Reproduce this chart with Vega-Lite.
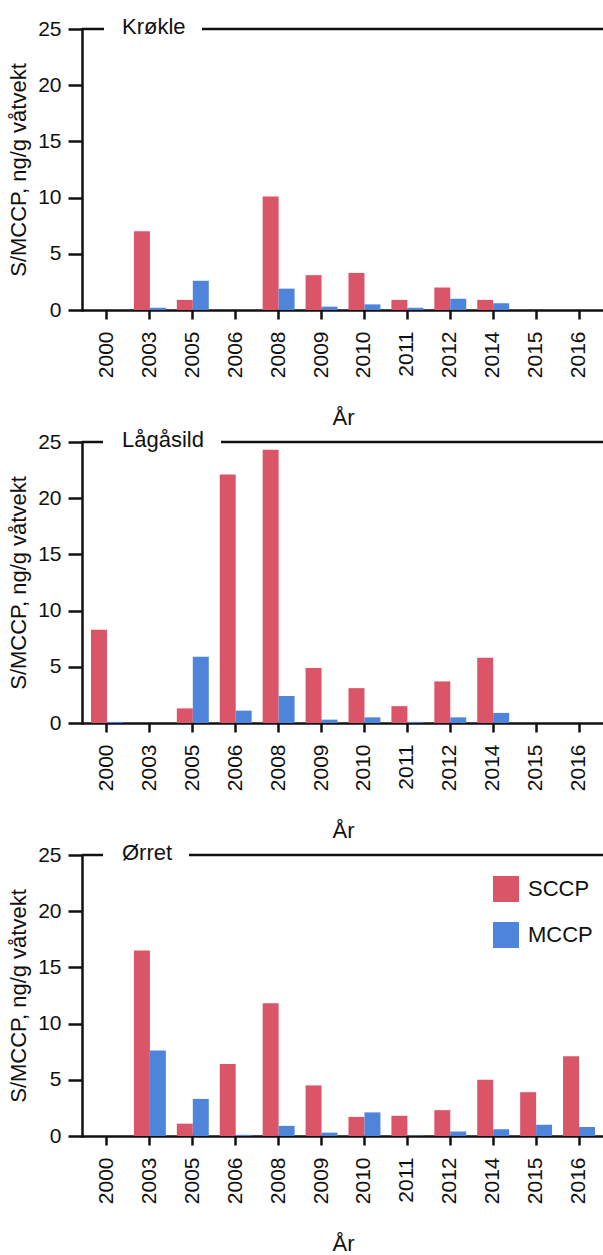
{
  "$schema": "https://vega.github.io/schema/vega-lite/v6.json",
  "padding": {"left": 7, "top": 16, "right": 0, "bottom": 0},
  "spacing": 0,
  "datasets": {
    "ccp": [
      {"art": "Krøkle", "aar": "2000", "stoff": "SCCP", "verdi": 0},
      {"art": "Krøkle", "aar": "2000", "stoff": "MCCP", "verdi": 0},
      {"art": "Krøkle", "aar": "2003", "stoff": "SCCP", "verdi": 7.0},
      {"art": "Krøkle", "aar": "2003", "stoff": "MCCP", "verdi": 0.2},
      {"art": "Krøkle", "aar": "2005", "stoff": "SCCP", "verdi": 0.9},
      {"art": "Krøkle", "aar": "2005", "stoff": "MCCP", "verdi": 2.6},
      {"art": "Krøkle", "aar": "2006", "stoff": "SCCP", "verdi": 0},
      {"art": "Krøkle", "aar": "2006", "stoff": "MCCP", "verdi": 0},
      {"art": "Krøkle", "aar": "2008", "stoff": "SCCP", "verdi": 10.1},
      {"art": "Krøkle", "aar": "2008", "stoff": "MCCP", "verdi": 1.9},
      {"art": "Krøkle", "aar": "2009", "stoff": "SCCP", "verdi": 3.1},
      {"art": "Krøkle", "aar": "2009", "stoff": "MCCP", "verdi": 0.3},
      {"art": "Krøkle", "aar": "2010", "stoff": "SCCP", "verdi": 3.3},
      {"art": "Krøkle", "aar": "2010", "stoff": "MCCP", "verdi": 0.5},
      {"art": "Krøkle", "aar": "2011", "stoff": "SCCP", "verdi": 0.9},
      {"art": "Krøkle", "aar": "2011", "stoff": "MCCP", "verdi": 0.2},
      {"art": "Krøkle", "aar": "2012", "stoff": "SCCP", "verdi": 2.0},
      {"art": "Krøkle", "aar": "2012", "stoff": "MCCP", "verdi": 1.0},
      {"art": "Krøkle", "aar": "2014", "stoff": "SCCP", "verdi": 0.9},
      {"art": "Krøkle", "aar": "2014", "stoff": "MCCP", "verdi": 0.6},
      {"art": "Krøkle", "aar": "2015", "stoff": "SCCP", "verdi": 0},
      {"art": "Krøkle", "aar": "2015", "stoff": "MCCP", "verdi": 0},
      {"art": "Krøkle", "aar": "2016", "stoff": "SCCP", "verdi": 0},
      {"art": "Krøkle", "aar": "2016", "stoff": "MCCP", "verdi": 0},
      {"art": "Lågåsild", "aar": "2000", "stoff": "SCCP", "verdi": 8.3},
      {"art": "Lågåsild", "aar": "2000", "stoff": "MCCP", "verdi": 0.1},
      {"art": "Lågåsild", "aar": "2003", "stoff": "SCCP", "verdi": 0},
      {"art": "Lågåsild", "aar": "2003", "stoff": "MCCP", "verdi": 0},
      {"art": "Lågåsild", "aar": "2005", "stoff": "SCCP", "verdi": 1.3},
      {"art": "Lågåsild", "aar": "2005", "stoff": "MCCP", "verdi": 5.9},
      {"art": "Lågåsild", "aar": "2006", "stoff": "SCCP", "verdi": 22.1},
      {"art": "Lågåsild", "aar": "2006", "stoff": "MCCP", "verdi": 1.1},
      {"art": "Lågåsild", "aar": "2008", "stoff": "SCCP", "verdi": 24.3},
      {"art": "Lågåsild", "aar": "2008", "stoff": "MCCP", "verdi": 2.4},
      {"art": "Lågåsild", "aar": "2009", "stoff": "SCCP", "verdi": 4.9},
      {"art": "Lågåsild", "aar": "2009", "stoff": "MCCP", "verdi": 0.3},
      {"art": "Lågåsild", "aar": "2010", "stoff": "SCCP", "verdi": 3.1},
      {"art": "Lågåsild", "aar": "2010", "stoff": "MCCP", "verdi": 0.5},
      {"art": "Lågåsild", "aar": "2011", "stoff": "SCCP", "verdi": 1.5},
      {"art": "Lågåsild", "aar": "2011", "stoff": "MCCP", "verdi": 0.1},
      {"art": "Lågåsild", "aar": "2012", "stoff": "SCCP", "verdi": 3.7},
      {"art": "Lågåsild", "aar": "2012", "stoff": "MCCP", "verdi": 0.5},
      {"art": "Lågåsild", "aar": "2014", "stoff": "SCCP", "verdi": 5.8},
      {"art": "Lågåsild", "aar": "2014", "stoff": "MCCP", "verdi": 0.9},
      {"art": "Lågåsild", "aar": "2015", "stoff": "SCCP", "verdi": 0},
      {"art": "Lågåsild", "aar": "2015", "stoff": "MCCP", "verdi": 0},
      {"art": "Lågåsild", "aar": "2016", "stoff": "SCCP", "verdi": 0},
      {"art": "Lågåsild", "aar": "2016", "stoff": "MCCP", "verdi": 0},
      {"art": "Ørret", "aar": "2000", "stoff": "SCCP", "verdi": 0},
      {"art": "Ørret", "aar": "2000", "stoff": "MCCP", "verdi": 0},
      {"art": "Ørret", "aar": "2003", "stoff": "SCCP", "verdi": 16.5},
      {"art": "Ørret", "aar": "2003", "stoff": "MCCP", "verdi": 7.6},
      {"art": "Ørret", "aar": "2005", "stoff": "SCCP", "verdi": 1.1},
      {"art": "Ørret", "aar": "2005", "stoff": "MCCP", "verdi": 3.3},
      {"art": "Ørret", "aar": "2006", "stoff": "SCCP", "verdi": 6.4},
      {"art": "Ørret", "aar": "2006", "stoff": "MCCP", "verdi": 0.1},
      {"art": "Ørret", "aar": "2008", "stoff": "SCCP", "verdi": 11.8},
      {"art": "Ørret", "aar": "2008", "stoff": "MCCP", "verdi": 0.9},
      {"art": "Ørret", "aar": "2009", "stoff": "SCCP", "verdi": 4.5},
      {"art": "Ørret", "aar": "2009", "stoff": "MCCP", "verdi": 0.3},
      {"art": "Ørret", "aar": "2010", "stoff": "SCCP", "verdi": 1.7},
      {"art": "Ørret", "aar": "2010", "stoff": "MCCP", "verdi": 2.1},
      {"art": "Ørret", "aar": "2011", "stoff": "SCCP", "verdi": 1.8},
      {"art": "Ørret", "aar": "2011", "stoff": "MCCP", "verdi": 0.05},
      {"art": "Ørret", "aar": "2012", "stoff": "SCCP", "verdi": 2.3},
      {"art": "Ørret", "aar": "2012", "stoff": "MCCP", "verdi": 0.4},
      {"art": "Ørret", "aar": "2014", "stoff": "SCCP", "verdi": 5.0},
      {"art": "Ørret", "aar": "2014", "stoff": "MCCP", "verdi": 0.6},
      {"art": "Ørret", "aar": "2015", "stoff": "SCCP", "verdi": 3.9},
      {"art": "Ørret", "aar": "2015", "stoff": "MCCP", "verdi": 1.0},
      {"art": "Ørret", "aar": "2016", "stoff": "SCCP", "verdi": 7.1},
      {"art": "Ørret", "aar": "2016", "stoff": "MCCP", "verdi": 0.8}
    ]
  },
  "resolve": {"legend": {"color": "independent"}},
  "vconcat": [
    {
      "width": 522,
      "height": 281,
      "title": {"text": "Krøkle"},
      "layer": [
        {
          "data": {"values": [{}]},
          "mark": {"type": "rule", "strokeDash": [402, 98, 100], "strokeWidth": 2.5, "color": "#111"},
          "encoding": {"y": {"datum": 25, "type": "quantitative"}}
        },
        {
          "data": {"name": "ccp"},
          "transform": [{"filter": "datum.art === 'Krøkle'"}],
          "mark": "bar",
          "encoding": {
            "x": {"field": "aar", "type": "ordinal", "title": "År",
                  "scale": {"domain": ["2000","2003","2005","2006","2008","2009","2010","2011","2012","2014","2015","2016"], "paddingInner": 0.256, "paddingOuter": 0.21}},
            "xOffset": {"field": "stoff", "scale": {"domain": ["SCCP", "MCCP"], "padding": 0}},
            "y": {"field": "verdi", "type": "quantitative", "title": "S/MCCP, ng/g våtvekt", "scale": {"domain": [0, 25], "nice": false},
                  "axis": {"values": [0, 2.5, 5, 7.5, 10, 12.5, 15, 17.5, 20, 22.5, 25], "labelOverlap": false,
                           "labelExpr": "datum.value % 5 === 0 ? datum.label : ''",
                           "tickSize": {"condition": {"test": "datum.value % 5 === 0", "value": 14}, "value": 8}}},
            "color": {"field": "stoff", "type": "nominal", "scale": {"domain": ["SCCP", "MCCP"], "range": ["#da5568", "#4e84da"]}, "legend": null}
          }
        }
      ]
    },
    {
      "width": 522,
      "height": 281,
      "title": {"text": "Lågåsild"},
      "layer": [
        {
          "data": {"values": [{}]},
          "mark": {"type": "rule", "strokeDash": [383, 118, 100], "strokeWidth": 2.5, "color": "#111"},
          "encoding": {"y": {"datum": 25, "type": "quantitative"}}
        },
        {
          "data": {"name": "ccp"},
          "transform": [{"filter": "datum.art === 'Lågåsild'"}],
          "mark": "bar",
          "encoding": {
            "x": {"field": "aar", "type": "ordinal", "title": "År",
                  "scale": {"domain": ["2000","2003","2005","2006","2008","2009","2010","2011","2012","2014","2015","2016"], "paddingInner": 0.256, "paddingOuter": 0.21}},
            "xOffset": {"field": "stoff", "scale": {"domain": ["SCCP", "MCCP"], "padding": 0}},
            "y": {"field": "verdi", "type": "quantitative", "title": "S/MCCP, ng/g våtvekt", "scale": {"domain": [0, 25], "nice": false},
                  "axis": {"values": [0, 2.5, 5, 7.5, 10, 12.5, 15, 17.5, 20, 22.5, 25], "labelOverlap": false,
                           "labelExpr": "datum.value % 5 === 0 ? datum.label : ''",
                           "tickSize": {"condition": {"test": "datum.value % 5 === 0", "value": 14}, "value": 8}}},
            "color": {"field": "stoff", "type": "nominal", "scale": {"domain": ["SCCP", "MCCP"], "range": ["#da5568", "#4e84da"]}, "legend": null}
          }
        }
      ]
    },
    {
      "width": 522,
      "height": 281,
      "title": {"text": "Ørret"},
      "layer": [
        {
          "data": {"values": [{}]},
          "mark": {"type": "rule", "strokeDash": [415, 86, 100], "strokeWidth": 2.5, "color": "#111"},
          "encoding": {"y": {"datum": 25, "type": "quantitative"}}
        },
        {
          "data": {"name": "ccp"},
          "transform": [{"filter": "datum.art === 'Ørret'"}],
          "mark": "bar",
          "encoding": {
            "x": {"field": "aar", "type": "ordinal", "title": "År",
                  "scale": {"domain": ["2000","2003","2005","2006","2008","2009","2010","2011","2012","2014","2015","2016"], "paddingInner": 0.256, "paddingOuter": 0.21}},
            "xOffset": {"field": "stoff", "scale": {"domain": ["SCCP", "MCCP"], "padding": 0}},
            "y": {"field": "verdi", "type": "quantitative", "title": "S/MCCP, ng/g våtvekt", "scale": {"domain": [0, 25], "nice": false},
                  "axis": {"values": [0, 2.5, 5, 7.5, 10, 12.5, 15, 17.5, 20, 22.5, 25], "labelOverlap": false,
                           "labelExpr": "datum.value % 5 === 0 ? datum.label : ''",
                           "tickSize": {"condition": {"test": "datum.value % 5 === 0", "value": 14}, "value": 8}}},
            "color": {"field": "stoff", "type": "nominal", "title": null,
                      "scale": {"domain": ["SCCP", "MCCP"], "range": ["#da5568", "#4e84da"]},
                      "legend": {"orient": "none", "legendX": 411, "legendY": 21, "padding": 0, "symbolType": "square", "symbolSize": 676, "symbolStrokeWidth": 0, "rowPadding": 20, "labelOffset": 9, "labelFontSize": 22, "labelColor": "#111", "labelFont": "Liberation Sans"}}
          }
        }
      ]
    }
  ],
  "config": {
    "view": {"stroke": null},
    "font": "Liberation Sans",
    "title": {"anchor": "start", "frame": "group", "dx": 40, "offset": -21, "baseline": "middle", "fontSize": 22, "fontWeight": "normal", "color": "#111", "font": "Liberation Sans"},
    "axis": {"grid": false, "domainColor": "#111", "domainWidth": 2.5, "tickColor": "#111", "tickWidth": 2.5, "labelColor": "#111", "titleColor": "#111", "labelFontSize": 21, "titleFontSize": 22, "titleFontWeight": "normal", "labelFont": "Liberation Sans", "titleFont": "Liberation Sans", "labelOverlap": false},
    "axisX": {"labelAngle": -90, "labelAlign": "right", "labelBaseline": "middle", "tickSize": 9, "labelPadding": 12, "titlePadding": 30, "bandPosition": 0.5},
    "axisY": {"labelPadding": 7, "titlePadding": 8, "minExtent": 44, "maxExtent": 44, "domainCap": "square"}
  }
}
